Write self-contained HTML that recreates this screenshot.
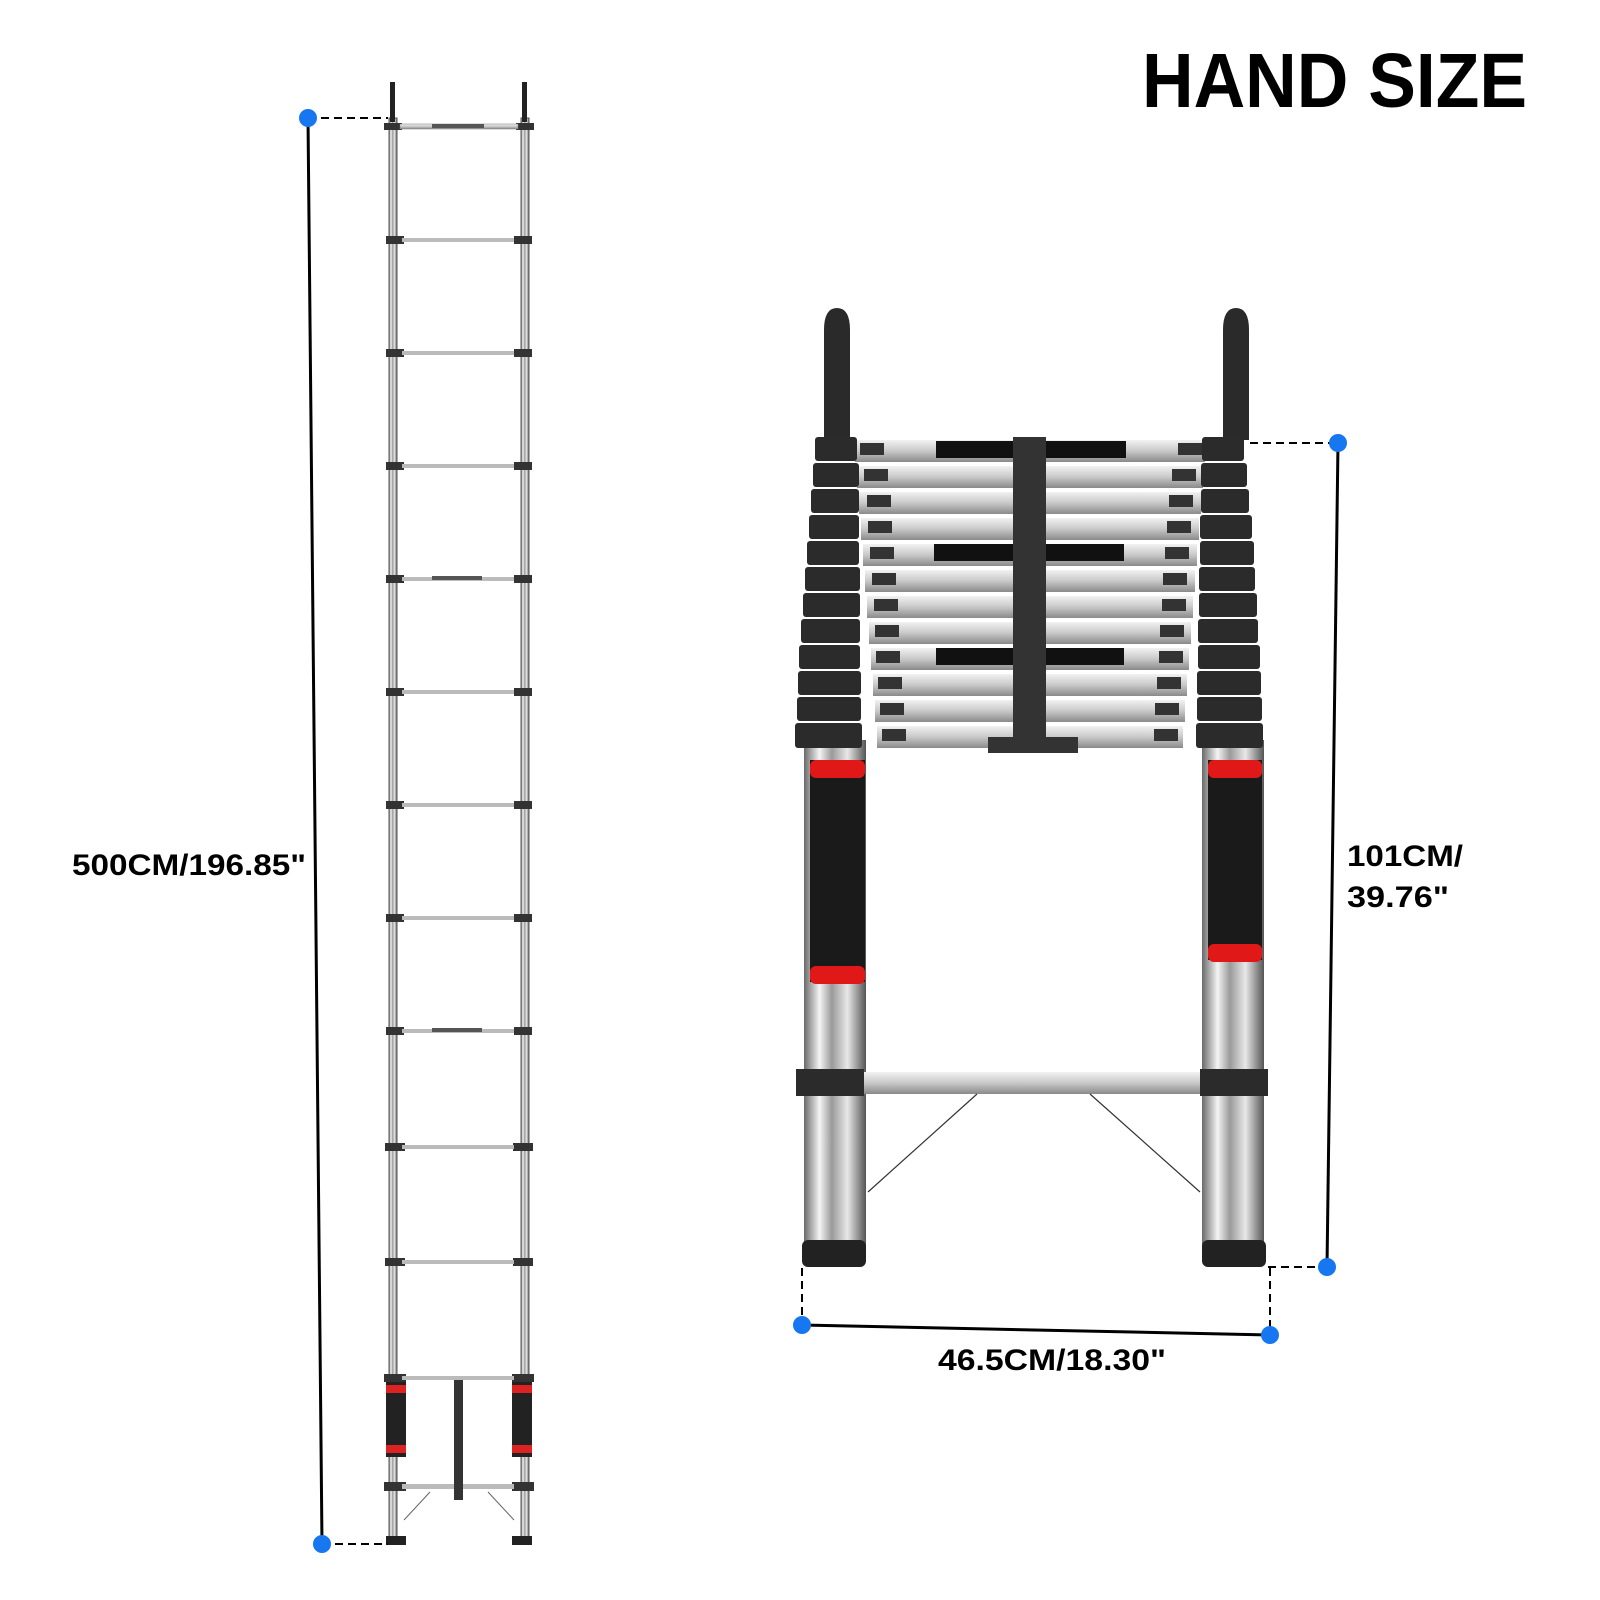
<!DOCTYPE html>
<html><head><meta charset="utf-8"><style>
html,body{margin:0;padding:0;background:#fff;}
svg{display:block;}
text{font-family:"Liberation Sans",sans-serif;font-weight:bold;fill:#000;}
</style></head><body>
<svg width="1600" height="1600" viewBox="0 0 1600 1600" xmlns="http://www.w3.org/2000/svg">
<defs>
<linearGradient id="tube" x1="0" x2="1" y1="0" y2="0">
<stop offset="0" stop-color="#6a6a6a"/><stop offset="0.25" stop-color="#f4f4f4"/><stop offset="0.45" stop-color="#9a9a9a"/><stop offset="0.7" stop-color="#e8e8e8"/><stop offset="1" stop-color="#555"/>
</linearGradient>
<linearGradient id="rung" x1="0" x2="0" y1="0" y2="1">
<stop offset="0" stop-color="#f2f2f2"/><stop offset="0.5" stop-color="#c8c8c8"/><stop offset="1" stop-color="#8a8a8a"/>
</linearGradient>
</defs>

<text x="1142" y="107" font-size="77" textLength="385" lengthAdjust="spacingAndGlyphs">HAND SIZE</text>

<!-- LEFT LADDER -->
<g>
<rect x="389" y="118" width="8" height="1426" fill="url(#tube)" stroke="#555" stroke-width="1"/>
<rect x="521" y="118" width="8" height="1426" fill="url(#tube)" stroke="#555" stroke-width="1"/>
<rect x="390" y="82" width="5" height="40" fill="#222"/>
<rect x="522" y="82" width="5" height="40" fill="#222"/>
<g fill="#333">
<rect x="384" y="123" width="18" height="7"/><rect x="516" y="123" width="18" height="7"/>
</g>
<rect x="400" y="124" width="118" height="5" fill="url(#rung)" stroke="#777" stroke-width="0.5"/>
<rect x="432" y="124" width="52" height="4" fill="#555"/>
<g id="rungs" fill="#333">
</g>
<!-- rungs -->
<g>
<rect x="386" y="236" width="18" height="8" fill="#333"/><rect x="514" y="236" width="18" height="8" fill="#333"/><rect x="402" y="238" width="112" height="4" fill="#bbb"/>
<rect x="386" y="349" width="18" height="8" fill="#333"/><rect x="514" y="349" width="18" height="8" fill="#333"/><rect x="402" y="351" width="112" height="4" fill="#bbb"/>
<rect x="386" y="462" width="18" height="8" fill="#333"/><rect x="514" y="462" width="18" height="8" fill="#333"/><rect x="402" y="464" width="112" height="4" fill="#bbb"/>
<rect x="386" y="575" width="18" height="8" fill="#333"/><rect x="514" y="575" width="18" height="8" fill="#333"/><rect x="402" y="577" width="112" height="4" fill="#bbb"/><rect x="432" y="576" width="50" height="4" fill="#555"/>
<rect x="386" y="688" width="18" height="8" fill="#333"/><rect x="514" y="688" width="18" height="8" fill="#333"/><rect x="402" y="690" width="112" height="4" fill="#bbb"/>
<rect x="386" y="801" width="18" height="8" fill="#333"/><rect x="514" y="801" width="18" height="8" fill="#333"/><rect x="402" y="803" width="112" height="4" fill="#bbb"/>
<rect x="386" y="914" width="18" height="8" fill="#333"/><rect x="514" y="914" width="18" height="8" fill="#333"/><rect x="402" y="916" width="112" height="4" fill="#bbb"/>
<rect x="386" y="1027" width="18" height="8" fill="#333"/><rect x="514" y="1027" width="18" height="8" fill="#333"/><rect x="402" y="1029" width="112" height="4" fill="#bbb"/><rect x="432" y="1028" width="50" height="4" fill="#555"/>
<rect x="385" y="1143" width="20" height="8" fill="#333"/><rect x="513" y="1143" width="20" height="8" fill="#333"/><rect x="402" y="1145" width="112" height="4" fill="#bbb"/>
<rect x="385" y="1258" width="20" height="8" fill="#333"/><rect x="513" y="1258" width="20" height="8" fill="#333"/><rect x="402" y="1260" width="112" height="4" fill="#bbb"/>
<rect x="384" y="1374" width="22" height="8" fill="#333"/><rect x="512" y="1374" width="22" height="8" fill="#333"/><rect x="402" y="1376" width="112" height="4" fill="#bbb"/>
<rect x="384" y="1482" width="22" height="9" fill="#333"/><rect x="512" y="1482" width="22" height="9" fill="#333"/><rect x="402" y="1484" width="112" height="5" fill="#bbb"/>
</g>
<rect x="386" y="1382" width="20" height="75" fill="#222"/><rect x="386" y="1385" width="20" height="8" fill="#d22"/><rect x="386" y="1445" width="20" height="8" fill="#d22"/>
<rect x="512" y="1382" width="20" height="75" fill="#222"/><rect x="512" y="1385" width="20" height="8" fill="#d22"/><rect x="512" y="1445" width="20" height="8" fill="#d22"/>
<rect x="454" y="1380" width="9" height="120" fill="#333"/>
<line x1="404" y1="1520" x2="430" y2="1492" stroke="#666"/><line x1="514" y1="1520" x2="488" y2="1492" stroke="#666"/>
<rect x="386" y="1536" width="20" height="9" fill="#222"/><rect x="512" y="1536" width="20" height="9" fill="#222"/>
</g>

<!-- left dimension -->
<line x1="308" y1="118" x2="388" y2="118" stroke="#000" stroke-width="2" stroke-dasharray="8,5"/>
<line x1="322" y1="1544" x2="388" y2="1544" stroke="#000" stroke-width="2" stroke-dasharray="8,5"/>
<line x1="308" y1="118" x2="322" y2="1544" stroke="#000" stroke-width="3"/>
<circle cx="308" cy="118" r="9" fill="#1677f0"/><circle cx="322" cy="1544" r="9" fill="#1677f0"/>
<text x="72" y="875" font-size="30" textLength="234" lengthAdjust="spacingAndGlyphs">500CM/196.85"</text>

<!-- RIGHT LADDER -->
<!-- hooks -->
<path d="M824 440 L824 330 Q824 308 837 308 Q850 308 850 330 L850 440 Z" fill="#2a2a2a"/>
<path d="M1223 440 L1223 330 Q1223 308 1236 308 Q1249 308 1249 330 L1249 440 Z" fill="#2a2a2a"/>
<!-- tubes -->
<rect x="804" y="740" width="62" height="520" fill="url(#tube)"/>
<rect x="1202" y="740" width="62" height="520" fill="url(#tube)"/>
<!-- rung stack -->
<g>
<rect x="855" y="440" width="350" height="22" fill="url(#rung)"/>
<rect x="857" y="466" width="346" height="22" fill="url(#rung)"/>
<rect x="859" y="492" width="342" height="22" fill="url(#rung)"/>
<rect x="861" y="518" width="338" height="22" fill="url(#rung)"/>
<rect x="863" y="544" width="334" height="22" fill="url(#rung)"/>
<rect x="865" y="570" width="330" height="22" fill="url(#rung)"/>
<rect x="867" y="596" width="326" height="22" fill="url(#rung)"/>
<rect x="869" y="622" width="322" height="22" fill="url(#rung)"/>
<rect x="871" y="648" width="318" height="22" fill="url(#rung)"/>
<rect x="873" y="674" width="314" height="22" fill="url(#rung)"/>
<rect x="875" y="700" width="310" height="22" fill="url(#rung)"/>
<rect x="877" y="726" width="306" height="22" fill="url(#rung)"/>
</g>
<g fill="#333">
<rect x="860" y="443" width="24" height="12"/><rect x="1178" y="443" width="24" height="12"/>
<rect x="864" y="469" width="24" height="12"/><rect x="1172" y="469" width="24" height="12"/>
<rect x="867" y="495" width="24" height="12"/><rect x="1169" y="495" width="24" height="12"/>
<rect x="868" y="521" width="24" height="12"/><rect x="1167" y="521" width="24" height="12"/>
<rect x="870" y="547" width="24" height="12"/><rect x="1165" y="547" width="24" height="12"/>
<rect x="872" y="573" width="24" height="12"/><rect x="1163" y="573" width="24" height="12"/>
<rect x="874" y="599" width="24" height="12"/><rect x="1162" y="599" width="24" height="12"/>
<rect x="875" y="625" width="24" height="12"/><rect x="1160" y="625" width="24" height="12"/>
<rect x="876" y="651" width="24" height="12"/><rect x="1159" y="651" width="24" height="12"/>
<rect x="878" y="677" width="24" height="12"/><rect x="1157" y="677" width="24" height="12"/>
<rect x="880" y="703" width="24" height="12"/><rect x="1155" y="703" width="24" height="12"/>
<rect x="882" y="729" width="24" height="12"/><rect x="1154" y="729" width="24" height="12"/>
</g>
<rect x="936" y="441" width="190" height="17" fill="#111"/>
<rect x="934" y="544" width="190" height="17" fill="#111"/>
<rect x="936" y="648" width="188" height="17" fill="#111"/>
<rect x="1013" y="437" width="33" height="308" fill="#333"/>
<rect x="988" y="737" width="90" height="16" fill="#333"/>
<!-- collars -->
<g fill="#2b2b2b">
<rect x="815" y="437" width="42" height="24" rx="3"/><rect x="1202" y="437" width="42" height="24" rx="3"/>
<rect x="813" y="463" width="46" height="24" rx="3"/><rect x="1201" y="463" width="46" height="24" rx="3"/>
<rect x="811" y="489" width="48" height="24" rx="3"/><rect x="1201" y="489" width="48" height="24" rx="3"/>
<rect x="809" y="515" width="50" height="24" rx="3"/><rect x="1200" y="515" width="52" height="24" rx="3"/>
<rect x="807" y="541" width="52" height="24" rx="3"/><rect x="1200" y="541" width="54" height="24" rx="3"/>
<rect x="805" y="567" width="55" height="24" rx="3"/><rect x="1199" y="567" width="56" height="24" rx="3"/>
<rect x="803" y="593" width="57" height="24" rx="3"/><rect x="1199" y="593" width="58" height="24" rx="3"/>
<rect x="801" y="619" width="59" height="24" rx="3"/><rect x="1198" y="619" width="60" height="24" rx="3"/>
<rect x="799" y="645" width="61" height="24" rx="3"/><rect x="1198" y="645" width="62" height="24" rx="3"/>
<rect x="798" y="671" width="63" height="24" rx="3"/><rect x="1197" y="671" width="64" height="24" rx="3"/>
<rect x="797" y="697" width="64" height="24" rx="3"/><rect x="1197" y="697" width="65" height="24" rx="3"/>
<rect x="795" y="723" width="67" height="25" rx="3"/><rect x="1196" y="723" width="67" height="25" rx="3"/>
</g>
<!-- labels on tubes -->
<rect x="810" y="760" width="55" height="222" fill="#1a1a1a"/>
<rect x="810" y="760" width="55" height="18" rx="6" fill="#e01818"/>
<rect x="810" y="966" width="55" height="18" rx="6" fill="#e01818"/>
<rect x="1208" y="760" width="54" height="200" fill="#1a1a1a"/>
<rect x="1208" y="760" width="54" height="18" rx="6" fill="#e01818"/>
<rect x="1208" y="944" width="54" height="18" rx="6" fill="#e01818"/>
<!-- bottom rung -->
<rect x="862" y="1072" width="344" height="22" fill="url(#rung)"/>
<rect x="796" y="1069" width="68" height="27" fill="#2b2b2b"/>
<rect x="1200" y="1069" width="68" height="27" fill="#2b2b2b"/>
<line x1="977" y1="1094" x2="868" y2="1192" stroke="#333" stroke-width="1.2"/>
<line x1="1090" y1="1094" x2="1200" y2="1192" stroke="#333" stroke-width="1.2"/>
<!-- feet -->
<rect x="802" y="1240" width="64" height="27" rx="6" fill="#222"/>
<rect x="1202" y="1240" width="64" height="27" rx="6" fill="#222"/>

<!-- right dimension -->
<line x1="1250" y1="443" x2="1338" y2="443" stroke="#000" stroke-width="2" stroke-dasharray="8,5"/>
<line x1="1268" y1="1267" x2="1327" y2="1267" stroke="#000" stroke-width="2" stroke-dasharray="8,5"/>
<line x1="1338" y1="443" x2="1327" y2="1267" stroke="#000" stroke-width="3"/>
<circle cx="1338" cy="443" r="9" fill="#1677f0"/><circle cx="1327" cy="1267" r="9" fill="#1677f0"/>
<text x="1347" y="866" font-size="30" textLength="116" lengthAdjust="spacingAndGlyphs">101CM/</text>
<text x="1347" y="907" font-size="30" textLength="102" lengthAdjust="spacingAndGlyphs">39.76"</text>

<!-- bottom dimension -->
<line x1="802" y1="1268" x2="802" y2="1325" stroke="#000" stroke-width="2" stroke-dasharray="8,5"/>
<line x1="1270" y1="1268" x2="1270" y2="1335" stroke="#000" stroke-width="2" stroke-dasharray="8,5"/>
<line x1="802" y1="1325" x2="1270" y2="1335" stroke="#000" stroke-width="3"/>
<circle cx="802" cy="1325" r="9" fill="#1677f0"/><circle cx="1270" cy="1335" r="9" fill="#1677f0"/>
<text x="938" y="1370" font-size="30" textLength="228" lengthAdjust="spacingAndGlyphs">46.5CM/18.30"</text>
</svg>
</body></html>
